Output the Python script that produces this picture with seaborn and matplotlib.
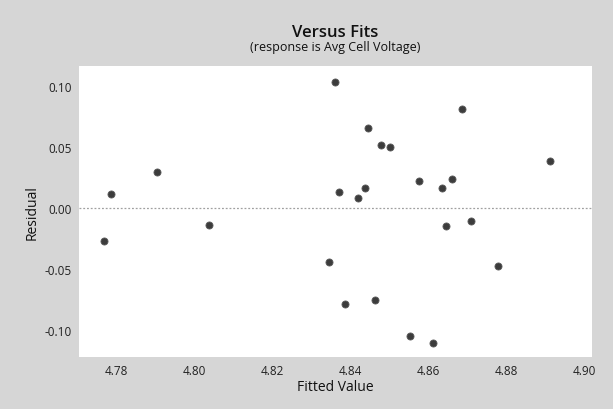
import matplotlib
matplotlib.use("Agg")
import matplotlib.pyplot as plt
import seaborn as sns
import pandas as pd

fitted = [4.7770, 4.7788, 4.7904, 4.8037, 4.8346, 4.8362, 4.8372, 4.8387,
          4.8421, 4.8437, 4.8446, 4.8463, 4.8479, 4.8502, 4.8554, 4.8577,
          4.8613, 4.8636, 4.8646, 4.8662, 4.8687, 4.8710, 4.8779, 4.8912]
residual = [-0.0272, 0.0108, 0.0289, -0.0143, -0.0449, 0.1029, 0.0125, -0.0791,
            0.0075, 0.0160, 0.0649, -0.0761, 0.0515, 0.0493, -0.1053, 0.0217,
            -0.1111, 0.0160, -0.0149, 0.0231, 0.0807, -0.0113, -0.0482, 0.0381]
x_ticks = [4.78, 4.80, 4.82, 4.84, 4.86, 4.88, 4.90]
y_ticks = [-0.10, -0.05, 0.00, 0.05, 0.10]

df = pd.DataFrame({"Fitted Value": fitted, "Residual": residual})

sns.set_theme(style="white")
plt.rcParams['font.family'] = ['Open Sans', 'DejaVu Sans']

bg = "#d6d6d6"
fig = plt.figure(figsize=(6.13, 4.10), dpi=100, facecolor=bg)
ax = fig.add_axes([0.1289, 0.1268, 0.8369, 0.7098])
ax.set_facecolor("white")

ax.axhline(0, color="#a0a0a0", lw=0.9, ls=(0, (1.5, 1.5)), zorder=1)
sns.scatterplot(data=df, x="Fitted Value", y="Residual", ax=ax, color="#3c3c3c",
                s=26, edgecolor="#5a5a5a", linewidth=0.6, zorder=3)

ax.set_xlim(4.7705, 4.9020)
ax.set_ylim(-0.1225, 0.1160)
ax.set_xticks(x_ticks)
ax.set_xticklabels([f"{v:.2f}" for v in x_ticks])
ax.set_yticks(y_ticks)
ax.set_yticklabels([f"{v:.2f}" for v in y_ticks])
ax.tick_params(axis="both", labelsize=8.5, colors="#222222", length=0, pad=5)
for s in ax.spines.values():
    s.set_visible(False)

ax.set_xlabel("Fitted Value", fontsize=10, color="#111111")
ax.set_ylabel("Residual", fontsize=10, color="#111111")
ax.xaxis.set_label_coords(0.5, -0.103)
ax.yaxis.set_label_coords(-0.0916, 0.5)
ax.xaxis.label.set_va("center")
ax.yaxis.label.set_va("center")

fig.text(0.5473, 1 - 33/410, "Versus Fits", ha="center", va="center",
         fontsize=12, fontweight="semibold", color="#111111")
fig.text(0.5473, 1 - 48/410, "(response is Avg Cell Voltage)", ha="center",
         va="center", fontsize=9, color="#111111")

fig.savefig("out.png", dpi=100, facecolor=bg)
